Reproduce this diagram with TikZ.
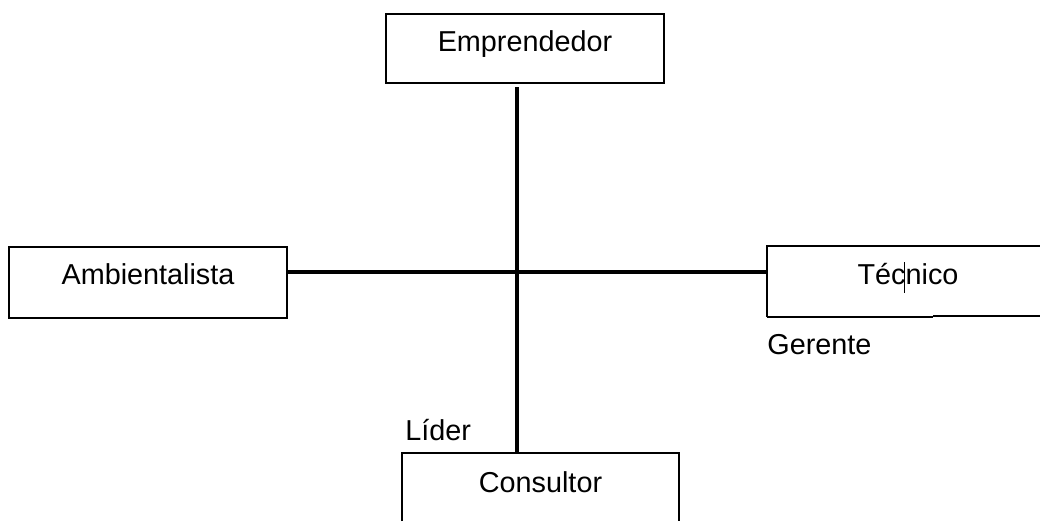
\documentclass[tikz,border=0pt]{standalone}
\usepackage{fontspec}
\setmainfont{Liberation Sans}
\tikzset{
	caja/.style={line width=1pt, inner xsep=0pt, inner ysep=0pt, minimum width=139pt,
		text height=18.5pt, text depth=16pt, anchor=north west, font=\fontsize{14.4}{16}\selectfont},
	eje/.style={line width=2pt},
	rotulo/.style={anchor=base west, inner sep=0pt, font=\fontsize{14.4}{16}\selectfont}
}
\begin{document}
\begin{tikzpicture}[x=0.5pt,y=-0.5pt]
	\useasboundingbox (0,0) rectangle (1040,521);
	% cajas
	\node[caja,draw] (emp) at (385,13) {Emprendedor};
	\node[caja,draw,text depth=17pt] (amb) at (8,246) {Ambientalista};
	\node[caja,minimum width=140pt] (tec) at (767,246) {Técnico};
	\node[caja,minimum width=137.5pt,text height=19pt] (con) at (402,453) {Consultor};
	\coordinate (centro) at (517,272);
	\coordinate (borde) at (1040,521);
	% marcos abiertos
	\draw[line width=1pt] (tec.south west) -- (tec.north west) -- (tec.north west -| borde);
	\draw[line width=1pt] (tec.south west) -- ++(166,0);
	\draw[line width=1.4pt] (933,316) -- (1040,316);
	\draw[line width=0.5pt] (904,262) -- (904,293);
	\draw[line width=1pt] (con.north west |- borde) -- (con.north west) -- (con.north east) -- (con.north east |- borde);
	% ejes
	\draw[eje,shorten <=1.5pt] (centro |- emp.south) -- (centro |- con.north);
	\draw[eje] (amb.east |- centro) -- (tec.west |- centro);
	% rotulos
	\node[rotulo] (ger) at (767,354) {Gerente};
	\node[rotulo] (lid) at (405,440) {Líder};
\end{tikzpicture}
\end{document}
